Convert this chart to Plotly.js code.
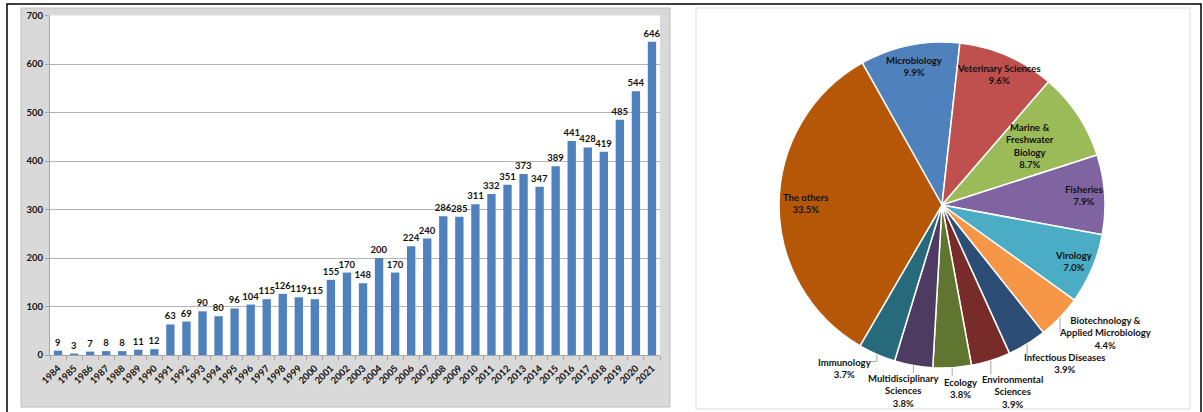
<!DOCTYPE html>
<html>
<head>
<meta charset="utf-8">
<script src="https://cdn.plot.ly/plotly-3.0.1.min.js"></script>
<style>
html,body{margin:0;padding:0;background:#fff;}
#chart{width:1203px;height:412px;}
</style>
</head>
<body>
<div id="chart"></div>
<script>
// ---------------- DATA ----------------
const years = ['1984','1985','1986','1987','1988','1989','1990','1991','1992','1993',
  '1994','1995','1996','1997','1998','1999','2000','2001','2002','2003',
  '2004','2005','2006','2007','2008','2009','2010','2011','2012','2013',
  '2014','2015','2016','2017','2018','2019','2020','2021'];
const publications = [9,3,7,8,8,11,12,63,69,90,
  80,96,104,115,126,119,115,155,170,148,
  200,170,224,240,286,285,311,332,351,373,
  347,389,441,428,419,485,544,646];

const categories = ['Microbiology','Veterinary Sciences','Marine & Freshwater Biology','Fisheries',
  'Virology','Biotechnology & Applied Microbiology','Infectious Diseases','Environmental Sciences',
  'Ecology','Multidisciplinary Sciences','Immunology','The others'];
const shares = [9.9,9.6,8.7,7.9,7.0,4.4,3.9,3.9,3.8,3.8,3.7,33.5];
const sliceLabelLines = ['Microbiology','Veterinary Sciences','Marine &<br>Freshwater<br>Biology','Fisheries',
  'Virology','Biotechnology &<br>Applied Microbiology','Infectious Diseases','Environmental<br>Sciences',
  'Ecology','Multidisciplinary<br>Sciences','Immunology','The others'];

// ---------------- STYLE ----------------
const W = 1203, H = 412;
const px = x => x / W;
const py = y => 1 - y / H;
const FONT = 'Lato, "Open Sans", sans-serif';
const sliceColors = ['#4F81BD','#C0504D','#9BBB59','#8064A2','#4BACC6','#F79646',
  '#2C4D75','#772C2A','#5F7530','#4D3B62','#276A7C','#B65708'];
const pieCx = 942, pieCy = 205, pieR = 163, pieRotation = -29.3;
// label placement per slice: inside (k = radial fraction) or outside (offset from rim + leader)
const labelPlacement = [
  {k:0.87},{k:0.875},{k:0.65},{k:0.87},{k:0.88},
  {dx:45, dy:15.5, lead:[[0,14]]},
  {dx:37, dy:19, lead:[[0,12]]},
  {dx:22, dy:31, lead:[[0,14]]},
  {dx:8, dy:21, lead:[[0,8]]},
  {dx:-10, dy:26, lead:[[0,7]]},
  {dx:-32, dy:14.5, lead:[[0,7],[-6,7]]},
  {k:0.84}
];

// ---------------- TRACES ----------------
const barTrace = {
  type:'bar', x:years, y:publications,
  marker:{color:'#4F81BD'},
  text:publications.map(String), textposition:'outside', textangle:0,
  constraintext:'none', cliponaxis:false,
  textfont:{family:FONT, size:9.5, color:'#111', weight:'bold'},
  hoverinfo:'x+y', xaxis:'x', yaxis:'y'
};

const pieTrace = {
  type:'pie', labels:categories, values:shares, sort:false,
  direction:'clockwise', rotation:pieRotation,
  marker:{colors:sliceColors, line:{color:'#ffffff', width:1.5}},
  textinfo:'none', hoverinfo:'label+percent',
  domain:{x:[px(pieCx-pieR), px(pieCx+pieR)], y:[py(pieCy+pieR), py(pieCy-pieR)]}
};

// ---------------- PIE LABELS (computed from the data) ----------------
const total = shares.reduce((a,b)=>a+b,0);
const annotations = [];
const shapes = [];
let cum = 0;
shares.forEach((v,i)=>{
  const midDeg = pieRotation + (cum + v/2)/total*360;
  cum += v;
  const a = midDeg*Math.PI/180;
  const s = Math.sin(a), c = -Math.cos(a);
  const p = labelPlacement[i];
  const txt = sliceLabelLines[i] + '<br>' + v.toFixed(1) + '%';
  let lx, ly;
  if (p.k !== undefined) {
    lx = pieCx + p.k*pieR*s; ly = pieCy + p.k*pieR*c;
  } else {
    const ex = pieCx + pieR*s, ey = pieCy + pieR*c;
    lx = ex + p.dx; ly = ey + p.dy;
    let path = 'M' + px(ex) + ',' + py(ey);
    p.lead.forEach(q=>{ path += ' L' + px(ex+q[0]) + ',' + py(ey+q[1]); });
    shapes.push({type:'path', xref:'paper', yref:'paper', path:path,
      line:{color:'#a6a6a6', width:1}, layer:'above'});
  }
  annotations.push({xref:'paper', yref:'paper', x:px(lx), y:py(ly),
    xanchor:'center', yanchor:'middle', showarrow:false, align:'center',
    text:txt, font:{family:FONT, size:9.5, color:'#111', weight:'bold'}});
});

// ---------------- PANELS ----------------
const panelShapes = [
  {type:'rect', xref:'paper', yref:'paper', x0:px(21), x1:px(670), y0:py(407), y1:py(8),
   fillcolor:'#d9d9d9', line:{color:'#bdbdbd', width:1}, layer:'below'},
  {type:'rect', xref:'paper', yref:'paper', x0:px(50), x1:px(660), y0:py(355), y1:py(15.5),
   fillcolor:'#ffffff', line:{width:0}, layer:'below'},
  {type:'rect', xref:'paper', yref:'paper', x0:px(696), x1:px(1190), y0:py(409), y1:py(8),
   fillcolor:'#ffffff', line:{color:'#dcdcdc', width:1}, layer:'below'},
  {type:'rect', xref:'paper', yref:'paper', x0:px(7), x1:px(1201), y0:py(425), y1:py(4),
   fillcolor:'rgba(0,0,0,0)', line:{color:'#000', width:1.5}, layer:'above'}
];

const layout = {
  width:W, height:H, margin:{l:0,r:0,t:0,b:0},
  paper_bgcolor:'#ffffff', plot_bgcolor:'#ffffff', showlegend:false,
  font:{family:FONT, color:'#111'},
  xaxis:{domain:[px(50), px(660)], type:'category', tickangle:-45,
    tickfont:{family:FONT, size:9.5, color:'#111', weight:'bold'},
    ticks:'outside', tickson:'boundaries', ticklen:4, tickcolor:'#a6a6a6',
    ticklabelstandoff:3,
    showline:true, linecolor:'#a6a6a6', linewidth:1, showgrid:false, fixedrange:true},
  yaxis:{domain:[py(355), py(15.5)], range:[0,700], dtick:100,
    tickfont:{family:FONT, size:9.5, color:'#111', weight:'bold'},
    ticks:'outside', ticklen:4, tickcolor:'#a6a6a6',
    showline:true, linecolor:'#a6a6a6', linewidth:1,
    showgrid:true, gridcolor:'#b3b3b3', gridwidth:1, zeroline:false, fixedrange:true},
  bargap:0.48,
  shapes: panelShapes.concat(shapes),
  annotations: annotations
};

Plotly.newPlot('chart', [barTrace, pieTrace], layout, {displayModeBar:false, staticPlot:true});
</script>
</body>
</html>
